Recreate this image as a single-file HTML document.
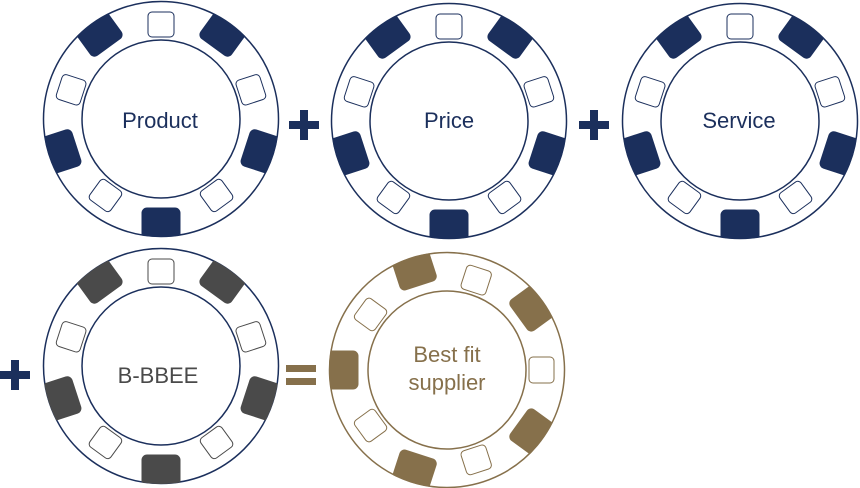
<!DOCTYPE html>
<html><head><meta charset="utf-8"><style>
html,body{margin:0;padding:0;background:#fff;width:860px;height:488px;overflow:hidden}
svg{display:block;position:absolute;left:0;top:0;overflow:hidden}
text{font-family:"Liberation Sans",sans-serif}
</style></head><body>
<svg width="860" height="488" viewBox="0 0 860 488" xmlns="http://www.w3.org/2000/svg">
<defs>
<clipPath id="c"><circle cx="0" cy="0" r="118"/></clipPath>
<rect id="o" x="-13" y="-107" width="26" height="25" rx="4" fill="none" stroke-width="1"/>
<rect id="f" x="-19" y="-120" width="38" height="31" rx="5"/>
<g id="chip">
 <circle cx="0" cy="0" r="117.5" fill="#fff" stroke-width="1.5"/>
 <circle cx="0" cy="0" r="79" fill="none" stroke-width="1.5"/>
 <g clip-path="url(#c)">
  <use href="#o"/>
  <use href="#f" transform="rotate(36)"/>
  <use href="#o" transform="rotate(72)"/>
  <use href="#f" transform="rotate(108)"/>
  <use href="#o" transform="rotate(144)"/>
  <use href="#f" transform="rotate(180)"/>
  <use href="#o" transform="rotate(216)"/>
  <use href="#f" transform="rotate(252)"/>
  <use href="#o" transform="rotate(288)"/>
  <use href="#f" transform="rotate(324)"/>
 </g>
</g>
</defs>
<g fill="#1b2f5c" stroke="#1b2f5c">
 <use href="#chip" transform="translate(161,119)"/>
 <use href="#chip" transform="translate(449,121)"/>
 <use href="#chip" transform="translate(740,121)"/>
</g>
<g fill="#4a4a4a" stroke="#1b2f5c">
 <circle cx="161" cy="366" r="117.5" fill="#fff" stroke-width="1.5"/>
 <circle cx="161" cy="366" r="79" fill="none" stroke-width="1.5"/>
</g>
<g transform="translate(161,366)" fill="#4a4a4a" stroke="#4a4a4a">
 <g clip-path="url(#c)">
  <use href="#o"/><use href="#f" transform="rotate(36)"/><use href="#o" transform="rotate(72)"/><use href="#f" transform="rotate(108)"/><use href="#o" transform="rotate(144)"/><use href="#f" transform="rotate(180)"/><use href="#o" transform="rotate(216)"/><use href="#f" transform="rotate(252)"/><use href="#o" transform="rotate(288)"/><use href="#f" transform="rotate(324)"/>
 </g>
</g>
<g fill="#86704b" stroke="#86704b">
 <use href="#chip" transform="translate(447,370) rotate(18)"/>
</g>
<g font-size="22" text-anchor="middle" fill="#1b2f5c">
 <text x="160" y="128">Product</text>
 <text x="449" y="128">Price</text>
 <text x="739" y="128">Service</text>
 <text x="158" y="383" fill="#4a4a4a">B-BBEE</text>
 <text x="447" y="362" fill="#86704b">Best fit</text>
 <text x="447" y="390" fill="#86704b">supplier</text>
</g>
<g fill="#1b2f5c">
 <rect x="289" y="121" width="30" height="8"/><rect x="300" y="110" width="8" height="30"/>
 <rect x="579" y="121" width="30" height="8"/><rect x="590" y="110" width="8" height="30"/>
 <rect x="0" y="371" width="30" height="8"/><rect x="11" y="360" width="8" height="30"/>
</g>
<g fill="#86704b">
 <rect x="286" y="365" width="30" height="7"/><rect x="286" y="378" width="30" height="7"/>
</g>
</svg>
</body></html>
